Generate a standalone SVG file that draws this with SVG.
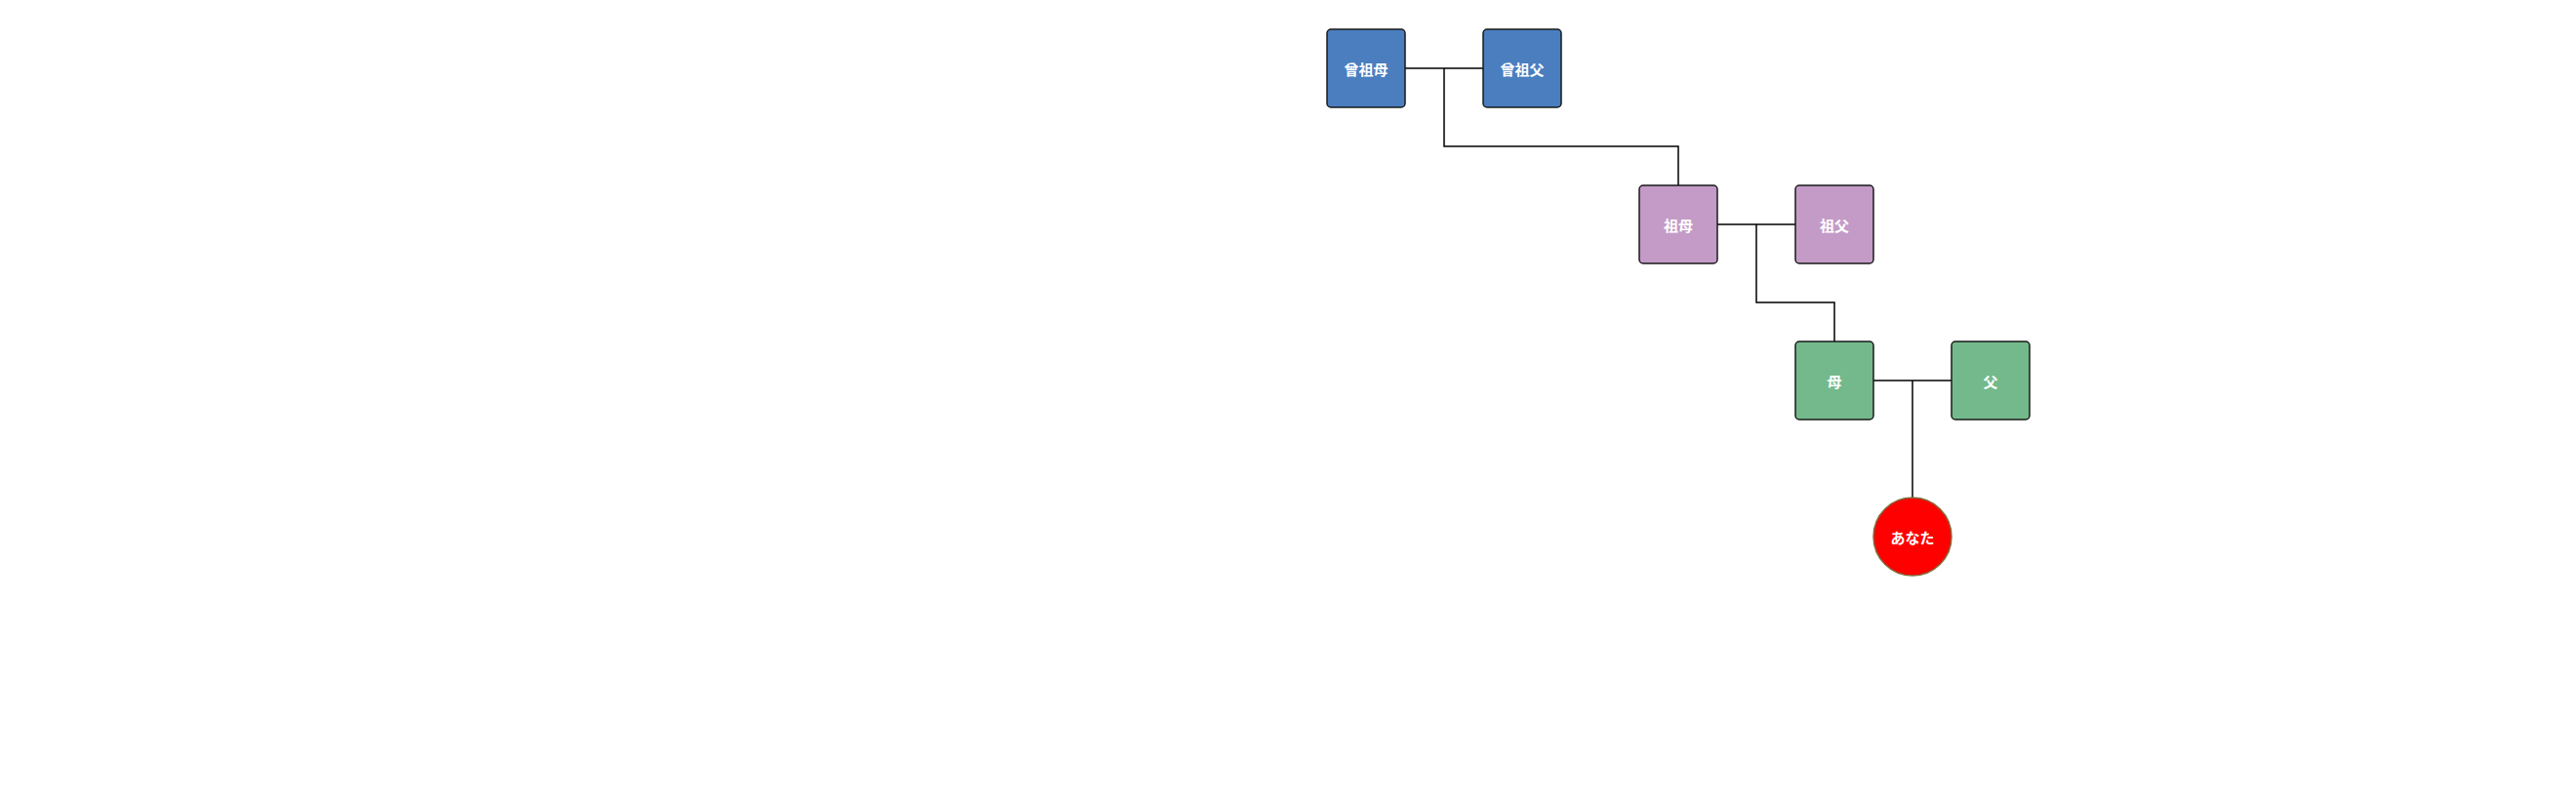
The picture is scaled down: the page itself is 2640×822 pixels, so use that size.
<svg xmlns="http://www.w3.org/2000/svg" width="2640" height="822" viewBox="0 0 2640 822">
<style>
.box{stroke:#1a1a1a;stroke-width:1.5}
.g1{fill:#4a7ebf}
.g2{fill:#c49bc7}
.g3{fill:#73b98b}
.lbl{font-family:"Noto Sans CJK JP","Noto Sans",sans-serif;font-size:15px;font-weight:bold;fill:#ffffff;text-anchor:middle;dominant-baseline:central}
.conn{fill:none;stroke:#000000;stroke-width:1.5}
</style>
<rect width="2640" height="822" fill="#ffffff"/>
<g id="connectors">
<path class="conn" d="M1440,70 H1520"/>
<path class="conn" d="M1480,70 V150 H1720 V190"/>
<path class="conn" d="M1760,230 H1840"/>
<path class="conn" d="M1800,230 V310 H1880 V350"/>
<path class="conn" d="M1920,390 H2000"/>
<path class="conn" d="M1960,390 V510"/>
</g>
<g id="great-grandmother"><rect class="box g1" x="1360" y="30" width="80" height="80" rx="4"/><text class="lbl" x="1400" y="70">曾祖母</text></g>
<g id="great-grandfather"><rect class="box g1" x="1520" y="30" width="80" height="80" rx="4"/><text class="lbl" x="1560" y="70">曾祖父</text></g>
<g id="grandmother"><rect class="box g2" x="1680" y="190" width="80" height="80" rx="4"/><text class="lbl" x="1720" y="230">祖母</text></g>
<g id="grandfather"><rect class="box g2" x="1840" y="190" width="80" height="80" rx="4"/><text class="lbl" x="1880" y="230">祖父</text></g>
<g id="mother"><rect class="box g3" x="1840" y="350" width="80" height="80" rx="4"/><text class="lbl" x="1880" y="390">母</text></g>
<g id="father"><rect class="box g3" x="2000" y="350" width="80" height="80" rx="4"/><text class="lbl" x="2040" y="390">父</text></g>
<g id="you"><circle cx="1960" cy="550" r="40" fill="#ff0000" stroke="#7f6a3a" stroke-width="1.5"/><text class="lbl" x="1960" y="550">あなた</text></g>
</svg>
